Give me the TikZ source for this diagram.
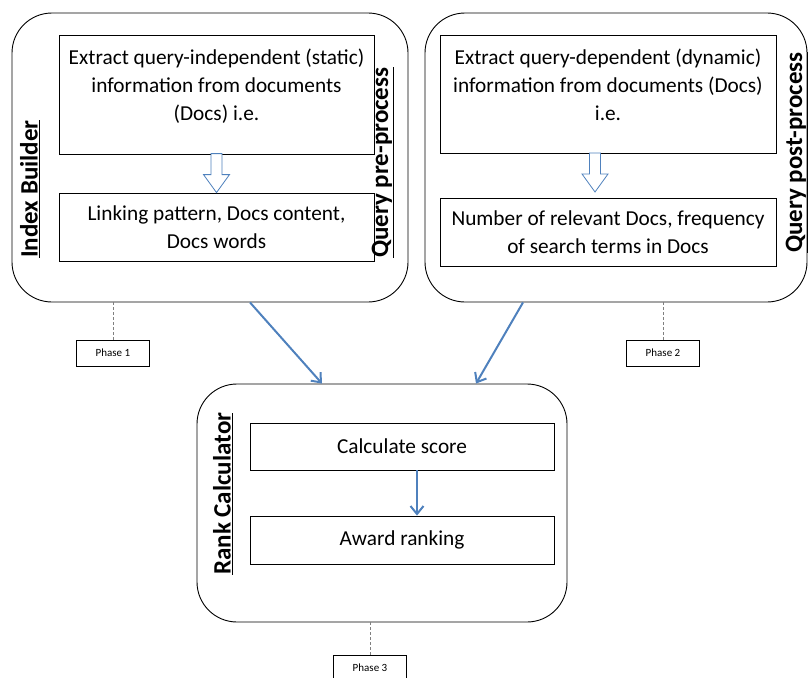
\documentclass[tikz,border=0pt]{standalone}
\usepackage{fontspec}
\setmainfont{Carlito}
\usetikzlibrary{arrows.meta, calc}
\definecolor{arrowblue}{RGB}{79,129,189}

\begin{document}
\begin{tikzpicture}[x=1pt,y=-1pt,
  panel/.style={draw,rounded corners=40pt,line width=0.9pt},
  taskbox/.style={draw,line width=0.8pt,align=center,inner sep=0pt,font=\fontsize{21.3}{28}\selectfont},
  sidelabel/.style={rotate=90,anchor=west,inner sep=0pt,font=\fontsize{25}{29}\selectfont\bfseries},
  phasebox/.style={draw,line width=0.7pt,minimum width=73pt,minimum height=26pt,inner sep=0pt,font=\fontsize{11}{13}\selectfont},
  leader/.style={draw=gray,densely dashed,line width=0.6pt},
  flow/.style={draw=arrowblue,line width=2pt,-{Straight Barb[length=8pt,width=13pt]}},
  hollow/.style={draw=arrowblue,line width=0.8pt,fill=white,line join=miter}]
  \useasboundingbox (0,0) rectangle (808,677);
  \node[panel,minimum width=396pt,minimum height=289pt] (ib) at (210,157.5) {};
  \node[panel,minimum width=382pt,minimum height=289pt] (qp) at (616,157.5) {};
  \node[panel,minimum width=370pt,minimum height=238pt] (rc) at (382,503) {};
  \node[taskbox,minimum width=315pt,minimum height=119pt] (ex1) at (216.5,94.5) {Extract query-independent (static)\\information from documents\\(Docs) i.e.\\[-9pt] \mbox{}};
  \node[taskbox,minimum width=315pt,minimum height=68pt] (lp) at (216.5,227) {Linking pattern, Docs content,\\Docs words};
  \node[taskbox,minimum width=336pt,minimum height=118pt] (ex2) at (608,94) {Extract query-dependent (dynamic)\\information from documents (Docs)\\i.e.\\[-9pt] \mbox{}};
  \node[taskbox,minimum width=336pt,minimum height=68pt] (nr) at (608,232) {Number of relevant Docs, frequency\\of search terms in Docs};
  \node[taskbox,minimum width=304pt,minimum height=47pt] (cs) at (402,446.5) {Calculate score};
  \node[taskbox,minimum width=304pt,minimum height=48pt] (ar) at (402,540) {Award ranking};
  % block arrows inside the two top panels
  \coordinate (t1) at (lp.north);
  \coordinate (t2) at (595,192);
  \draw[hollow] (t1) -- ++(-13,-18) -- ++(7.5,0) -- ++(0,-21) -- ++(11,0) -- ++(0,21) -- ++(7.5,0) -- cycle;
  \draw[hollow] (t2) -- ++(-13,-18) -- ++(7.5,0) -- ++(0,-21) -- ++(11,0) -- ++(0,21) -- ++(7.5,0) -- cycle;
  \node[sidelabel] (lb1) at (30,258) {\underline{Index Builder}};
  \node[sidelabel] (lb2) at (383,258) {\underline{Query pre-process}};
  \node[sidelabel] (lb3) at (797,253) {\underline{Query post-process}};
  \node[sidelabel] (lb4) at (223,575) {\underline{Rank Calculator}};
  \node[phasebox] (ph1) at (113,353) {Phase 1};
  \node[phasebox] (ph2) at (663,353) {Phase 2};
  \node[phasebox] (ph3) at (370,668) {Phase 3};
  \draw[leader] (ph1.north) -- (ph1.north |- ib.south);
  \draw[leader] (ph2.north) -- (ph2.north |- qp.south);
  \draw[leader] (ph3.north) -- (ph3.north |- rc.south);
  \draw[flow] ([xshift=40pt]ib.south) -- ([xshift=-60pt]rc.north);
  \draw[flow] ([xshift=-93pt]qp.south) -- ([xshift=94pt]rc.north);
  \draw[flow] ([xshift=15pt]cs.south) -- ([xshift=15pt]ar.north);
\end{tikzpicture}
\end{document}
